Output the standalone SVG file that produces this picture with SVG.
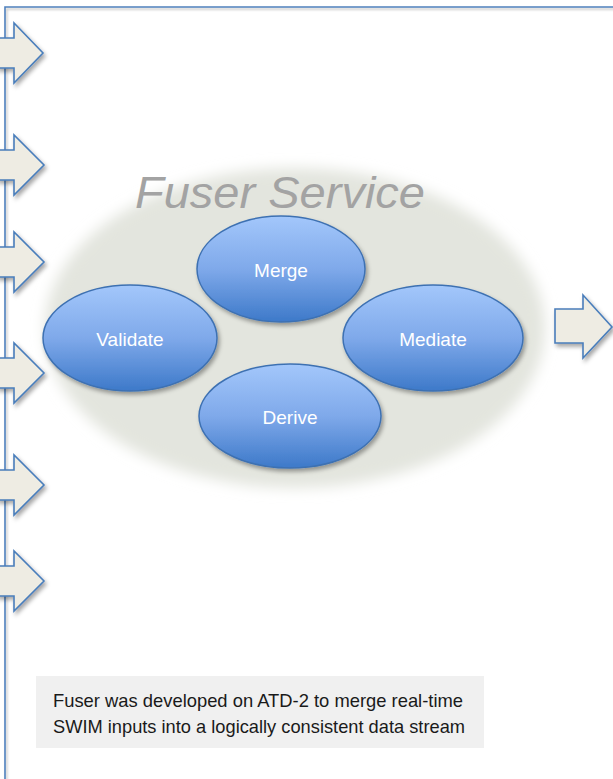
<svg xmlns="http://www.w3.org/2000/svg" width="613" height="779" viewBox="0 0 613 779">
<defs>
  <linearGradient id="blueGrad" x1="0" y1="0" x2="0" y2="1">
    <stop offset="0" stop-color="#A3C7FB"/>
    <stop offset="0.5" stop-color="#7FA9EA"/>
    <stop offset="1" stop-color="#3D79C9"/>
  </linearGradient>
  <filter id="soft" x="-10%" y="-10%" width="120%" height="120%">
    <feGaussianBlur stdDeviation="7"/>
  </filter>
  <filter id="shadow" x="-20%" y="-20%" width="140%" height="150%">
    <feDropShadow dx="2" dy="3" stdDeviation="2" flood-color="#000" flood-opacity="0.35"/>
  </filter>
  <filter id="lineShadow" x="-5%" y="-5%" width="110%" height="110%">
    <feDropShadow dx="1.5" dy="2" stdDeviation="1.2" flood-color="#000" flood-opacity="0.25"/>
  </filter>
</defs>
<style>
  .arrow { fill: #EEECE3; stroke: #4A7EBB; stroke-width: 1.6; stroke-linejoin: miter; filter: url(#shadow); }
  .node ellipse { fill: url(#blueGrad); stroke: #3E71B2; stroke-width: 1.5; filter: url(#shadow); }
  .node text { font-family: "Liberation Sans", Arial, sans-serif; font-size: 19px; fill: #FFFFFF; text-anchor: middle; }
  .frame { fill: none; stroke: #4F81BD; stroke-width: 1.6; filter: url(#lineShadow); }
</style>
<rect width="613" height="779" fill="#FFFFFF"/>

<g id="frame">
  <path class="frame" d="M5,779 V7 H613"/>
</g>

<g id="fuser-service">
  <ellipse cx="295" cy="328" rx="250" ry="160" fill="#E3E5DE" filter="url(#soft)"/>
  <text x="280" y="208" font-family="Liberation Sans, Arial, sans-serif" font-size="44" font-style="italic" fill="#A3A3A3" text-anchor="middle" textLength="290" lengthAdjust="spacingAndGlyphs">Fuser Service</text>
</g>

<g id="connectors">
  <path class="arrow" d="M-3,38 H14 V23 L43,53 L14,83 V68 H-3 Z"/>
  <path class="arrow" d="M-3,150 H14 V135 L44,165 L14,195 V180 H-3 Z"/>
  <path class="arrow" d="M-3,247 H14 V232 L44,262 L14,292 V277 H-3 Z"/>
  <path class="arrow" d="M-3,358 H14 V343 L44,373 L14,403 V388 H-3 Z"/>
  <path class="arrow" d="M-3,470 H14 V455 L44,485 L14,515 V500 H-3 Z"/>
  <path class="arrow" d="M-3,566 H14 V551 L44,581 L14,611 V596 H-3 Z"/>
  <path class="arrow" d="M555,309 H583 V295 L612,327 L583,358 V343 H555 Z"/>
</g>

<g id="merge" class="node">
  <ellipse cx="281" cy="269" rx="84" ry="53"/>
  <text x="281" y="277">Merge</text>
</g>
<g id="validate" class="node">
  <ellipse cx="130" cy="338" rx="87" ry="53"/>
  <text x="130" y="346">Validate</text>
</g>
<g id="mediate" class="node">
  <ellipse cx="433" cy="338" rx="90" ry="53"/>
  <text x="433" y="346">Mediate</text>
</g>
<g id="derive" class="node">
  <ellipse cx="290" cy="416" rx="91" ry="52"/>
  <text x="290" y="424">Derive</text>
</g>

<g id="caption">
  <rect x="36" y="676" width="448" height="72" fill="#F0F0F0"/>
  <text font-family="Liberation Sans, Arial, sans-serif" font-size="19" fill="#1A1A1A">
    <tspan x="53" y="707" textLength="410" lengthAdjust="spacingAndGlyphs">Fuser was developed on ATD-2 to merge real-time</tspan>
    <tspan x="53" y="733" textLength="412" lengthAdjust="spacingAndGlyphs">SWIM inputs into a logically consistent data stream</tspan>
  </text>
</g>
</svg>
